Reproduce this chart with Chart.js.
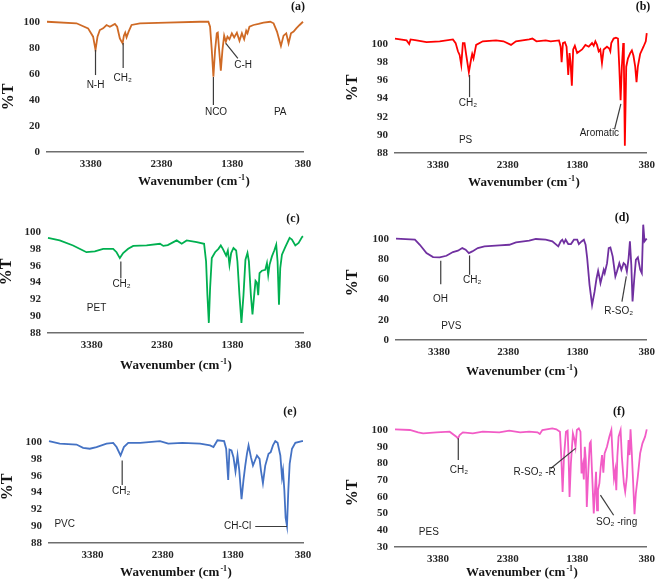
<!DOCTYPE html>
<html><head><meta charset="utf-8">
<script src="https://cdn.jsdelivr.net/npm/chart.js@4/dist/chart.umd.min.js"></script>
<style>
html,body{margin:0;padding:0;background:#fff;}
#wrap{position:relative;width:661px;height:584px;overflow:hidden;}
canvas{position:absolute;}
</style></head><body><div id="wrap">
<canvas id="ca" width="330" height="195" style="left:0;top:0"></canvas>
<canvas id="cb" width="331" height="195" style="left:330px;top:0"></canvas>
<canvas id="cc" width="330" height="195" style="left:0;top:195px"></canvas>
<canvas id="cd" width="331" height="195" style="left:330px;top:195px"></canvas>
<canvas id="ce" width="330" height="194" style="left:0;top:390px"></canvas>
<canvas id="cf" width="331" height="194" style="left:330px;top:390px"></canvas>
</div>
<script>
// ---- shared tick labels ----
const xTickValues = [3380, 2380, 1380, 380];
const yTicksPercent = [0, 20, 40, 60, 80, 100];
const yTicksNarrow = [88, 90, 92, 94, 96, 98, 100];
const yTicksPES = [30, 40, 50, 60, 70, 80, 90, 100];

// ---- (a) PA ----
const paWavenumber = [4000,3583,3419,3348,3314,3286,3253,3206,3158,3111,
  3040,3008,2970,2946,2931,2913,2894,2875,2846,2804,
  2686,2308,1836,1718,1694,1670,1647,1623,1599,1585,
  1566,1542,1519,1495,1471,1448,1420,1386,1353,1315,
  1278,1244,1212,1183,1165,1137,1080,1009,938,843,
  796,748,692,655,617,584,550,513,475,428,
  380];
const paTransmittance = [100.2,99.0,95.1,88.7,78.5,88.7,93.8,95.1,97.7,96.4,
  98.5,96.4,87.4,84.9,83.6,89.5,91.8,88.2,92.6,97.7,
  99.0,99.5,100.2,100.2,96.4,78.5,57.9,78.5,91.3,91.8,
  78.5,62.6,78.5,89.5,84.9,88.7,86.7,91.3,88.2,91.8,
  85.6,91.3,86.7,93.3,91.3,96.4,97.7,98.5,99.5,100.2,
  99.0,92.6,81.5,89.5,91.3,83.6,91.3,92.6,95.1,97.7,
  100.2];
const paNotes = [['N-H',3314,51.5],['CH₂',2931,56.9],['NCO',1610,30.8],['C-H',1226,66.9],['PA',702,30.8]];
const paLeaders = [[3314,78.5,3314,59.2],[2923,83.8,2923,64.6],[1647,57.7,1647,36.2],[1471,83.6,1301,72.1]];

// ---- (b) PS ----
const psWavenumber = [4000,3833,3796,3776,3690,3547,3357,3167,3128,3095,
  3071,3047,3024,3000,2976,2938,2904,2890,2871,2833,
  2738,2547,2440,2332,2261,2071,2024,1966,1833,1761,
  1642,1618,1604,1585,1557,1533,1509,1490,1476,1457,
  1438,1414,1381,1310,1262,1214,1167,1143,1119,1095,
  1071,1048,1024,1000,952,919,904,890,856,823,
  794,775,756,738,718,709,695,675,651,618,
  594,571,546,527,508,475,427,394,380];
const psTransmittance = [100.6,100.4,100.0,100.5,100.4,100.2,100.3,100.5,100.1,99.2,
  98.8,97.7,100.1,100.1,98.8,96.9,98.4,98.9,98.4,99.9,
  100.3,100.4,100.3,99.9,100.3,100.5,100.6,100.3,100.4,100.3,
  100.4,99.7,98.0,100.1,100.2,99.7,96.6,99.0,98.0,95.4,
  99.4,99.8,99.0,99.4,99.9,99.7,100.1,99.8,100.3,99.9,
  99.2,99.4,97.9,99.4,99.7,99.5,99.2,100.1,100.6,100.7,
  100.6,97.5,93.8,97.5,100.1,98.2,88.8,97.5,98.4,99.0,
  99.3,98.7,97.5,95.8,97.5,98.9,99.7,100.3,101.2];
const psNotes = [['CH₂',2952,93.5],['Aromatic',1061,90.15],['PS',2985,89.4]];
const psLeaders = [[2928,96.6,2928,94.15],[752,93.4,843,90.6]];

// ---- (c) PET ----
const petWavenumber = [4000,3834,3644,3502,3454,3335,3217,3075,3027,2980,
  2933,2862,2790,2600,2410,2363,2300,2173,2102,2031,
  1888,1784,1756,1737,1717,1699,1675,1628,1581,1547,
  1518,1471,1447,1424,1400,1367,1329,1311,1282,1254,
  1225,1197,1168,1148,1120,1097,1073,1054,1034,1016,
  997,963,916,892,874,855,821,788,760,741,
  721,703,679,632,570,537,489,442,394,380];
const petTransmittance = [99.3,99.0,98.4,97.8,97.6,97.7,98.0,98.0,97.6,96.9,
  97.5,98.0,98.35,98.4,98.6,98.35,98.45,99.0,98.6,99.0,
  98.8,98.6,96.5,92.5,89.2,93.3,96.9,97.6,98.0,98.4,
  98.0,97.2,97.8,96.1,97.5,98.1,97.8,96.5,92.5,89.2,
  92.5,96.7,97.5,96.5,92.5,90.2,92.5,94.2,94.0,92.5,
  95.1,95.4,95.5,96.3,94.9,96.1,97.1,97.8,98.5,96.5,
  91.35,95.7,97.3,98.2,99.3,99.1,98.4,98.7,99.4,99.5];
const petNotes = [['CH₂',2956,93.8],['PET',3311,91.0]];
const petLeaders = [[2966,96.5,2966,94.5]];

// ---- (d) PVS ----
const pvsWavenumber = [4000,3727,3656,3560,3465,3369,3272,3178,3106,3043,
  2995,2948,2899,2819,2723,2508,2364,2268,2077,1981,
  1838,1743,1657,1622,1599,1575,1551,1513,1474,1431,
  1384,1360,1321,1288,1263,1240,1206,1169,1134,1105,
  1082,1062,1048,1025,1001,987,953,929,905,872,
  833,810,776,747,714,690,667,642,623,603,
  585,560,537,508,474,451,431,412,394,380];
const pvsTransmittance = [100.3,99.3,94.3,86.1,82.1,81.8,83.4,87.1,88.4,91.0,
  89.4,86.1,87.7,91.0,92.7,93.6,94.3,96.6,98.3,100.0,
  99.3,97.7,92.7,97.7,99.3,96.0,99.3,95.0,95.0,99.3,
  99.3,95.0,97.6,99.3,94.3,81.1,54.6,34.8,47.6,60.9,
  68.5,61.9,56.3,62.9,69.5,66.2,76.1,91.0,91.7,82.8,
  62.9,67.8,76.1,69.5,76.1,74.5,67.8,81.1,97.7,74.5,
  38.1,60.9,79.4,81.8,69.5,66.2,114.2,97.7,99.3,100.3];
const pvsNotes = [['OH',3359,40.4],['CH₂',2900,59.6],['R-SO₂',786,28.8],['PVS',3201,13.9]];
const pvsLeaders = [[3354,78.5,3354,55.3],[2938,83.7,2938,64.5],[675,62.9,738,38.0]];

// ---- (e) PVC ----
const pvcWavenumber = [4000,3847,3608,3514,3418,3323,3180,3085,3037,2980,
  2933,2871,2700,2418,2300,2100,1847,1704,1656,1599,
  1504,1475,1446,1428,1399,1371,1342,1313,1289,1256,
  1228,1203,1179,1156,1122,1093,1036,999,979,951,
  918,871,840,808,775,742,703,679,665,646,
  628,608,589,570,537,489,394,380];
const pvcTransmittance = [100.1,99.8,99.7,99.3,99.2,99.4,99.8,99.9,99.4,98.4,
  99.4,99.9,99.9,100.1,99.8,99.9,99.8,99.6,99.4,100.2,
  100.1,99.2,95.5,99.1,99.0,98.2,96.5,98.4,96.7,93.2,
  95.5,97.2,98.6,99.6,98.2,97.2,98.4,98.0,96.6,95.1,
  97.2,98.6,98.8,99.6,100.1,99.9,98.4,95.8,96.6,94.3,
  91.0,90.0,94.3,97.4,99.2,99.9,100.1,100.1];
const pvcNotes = [['CH₂',2970,94.1],['PVC',3776,90.25],['CH-Cl',1311,90.0]];
const pvcLeaders = [[2957,97.8,2957,94.9],[1061,89.96,608,89.96]];

// ---- (f) PES ----
const pesWavenumber = [4000,3786,3667,3596,3404,3214,3118,3095,3071,3024,
  2881,2738,2500,2357,2200,2071,1950,1918,1881,1738,
  1680,1628,1609,1590,1570,1542,1518,1504,1490,1471,
  1442,1423,1404,1385,1357,1333,1318,1299,1285,1271,
  1256,1242,1223,1199,1185,1166,1142,1124,1109,1095,
  1081,1061,1042,1023,1004,986,952,918,889,870,
  851,832,818,803,785,756,738,709,690,666,
  642,628,613,595,575,556,537,509,475,442,
  404,380];
const pesTransmittance = [100.4,100.0,98.6,98.0,98.6,99.0,96.0,95.0,97.0,98.6,
  98.0,99.0,98.6,99.6,98.6,99.0,98.6,97.6,100.0,101.0,
  100.4,99.0,84.0,63.0,84.0,99.0,99.6,84.0,60.0,80.0,
  98.0,95.0,90.0,100.0,101.0,99.0,74.0,79.0,70.4,90.0,
  82.0,54.0,73.0,92.0,93.0,74.0,50.0,64.0,75.0,52.0,
  64.0,68.0,78.0,85.0,74.4,86.0,90.0,96.0,100.0,84.0,
  71.0,76.0,64.0,84.0,96.0,100.0,84.0,68.0,63.0,72.0,
  94.0,85.0,100.4,86.0,68.0,49.6,62.0,72.0,86.0,92.0,
  96.0,100.4];
const pesNotes = [['CH₂',3081,76],['R-SO₂ -R',1992,75],['SO₂ -ring',813,44.6],['PES',3514,38.6]];
const pesLeaders = [[3090,95,3090,82],[1404,89,1761,77],[1046,61,856,49]];

// ---------------- drawing ----------------
const SERIF = '"Liberation Serif", "Times New Roman", serif';
const SANS = '"Liberation Sans", Arial, sans-serif';

function drawXTitle(ctx, cx, cy) {
  const f1 = 'bold 13px ' + SERIF, f2 = 'bold 8px ' + SERIF;
  const a = 'Wavenumber (cm', b = '-1', c = ')';
  ctx.font = f1; const wa = ctx.measureText(a).width, wc = ctx.measureText(c).width;
  ctx.font = f2; const wb = ctx.measureText(b).width;
  const x0 = cx - (wa + wb + wc + 1.5) / 2;
  ctx.textAlign = 'left'; ctx.textBaseline = 'middle';
  ctx.font = f1; ctx.fillText(a, x0, cy);
  ctx.font = f2; ctx.fillText(b, x0 + wa + 1, cy - 4);
  ctx.font = f1; ctx.fillText(c, x0 + wa + wb + 1.5, cy);
}

function annotPlugin(p) {
  return {
    id: 'annot_' + p.id,
    afterDatasetsDraw(chart) {
      const ctx = chart.ctx, x = chart.scales.x, y = chart.scales.y;
      ctx.save();
      ctx.strokeStyle = '#3c3c3c'; ctx.lineWidth = 1.2;
      p.leaders.forEach(l => {
        ctx.beginPath();
        ctx.moveTo(x.getPixelForValue(l[0]), y.getPixelForValue(l[1]));
        ctx.lineTo(x.getPixelForValue(l[2]), y.getPixelForValue(l[3]));
        ctx.stroke();
      });
      ctx.fillStyle = '#1e1e1e'; ctx.font = '10px ' + SANS;
      ctx.textAlign = 'center'; ctx.textBaseline = 'middle';
      p.notes.forEach(n => ctx.fillText(n[0], x.getPixelForValue(n[1]), y.getPixelForValue(n[2])));
      ctx.fillStyle = '#141414';
      ctx.font = 'bold 12px ' + SERIF;
      ctx.fillText(p.letter, p.letterPos[0], p.letterPos[1]);
      ctx.save();
      ctx.translate(p.yTitlePos[0], p.yTitlePos[1]); ctx.rotate(-Math.PI / 2);
      ctx.font = 'bold 16px ' + SERIF; ctx.textAlign = 'center'; ctx.textBaseline = 'middle';
      ctx.fillText('%T', 0, 0);
      ctx.restore();
      drawXTitle(ctx, p.xTitlePos[0], p.xTitlePos[1]);
      ctx.restore();
    }
  };
}

function makeChart(p) {
  const cv = document.getElementById(p.id);
  const W = cv.width, H = cv.height;
  const tickFont = { family: SERIF, size: 11, weight: 'bold' };
  return new Chart(cv, {
    type: 'line',
    data: { datasets: [{
      data: p.wn.map((w, i) => ({ x: w, y: p.t[i] })),
      borderColor: p.color, borderWidth: 1.8, pointRadius: 0, tension: 0, fill: false, clip: false
    }] },
    options: {
      responsive: false, animation: false, events: [],
      layout: { padding: { left: 0, right: W - p.area.right, top: p.area.top, bottom: 0 } },
      plugins: { legend: { display: false }, tooltip: { enabled: false } },
      scales: {
        x: {
          type: 'linear', reverse: true, min: 380, max: 4000,
          afterBuildTicks: s => { s.ticks = xTickValues.map(v => ({ value: v })); },
          afterFit: s => { s.height = H - p.area.bottom; },
          grid: { display: false, drawTicks: false },
          border: { display: true, color: '#6e6e6e', width: 1.5 },
          ticks: { autoSkip: false, maxRotation: 0, padding: 6, color: '#262626', font: tickFont,
                   callback: v => String(v) }
        },
        y: {
          type: 'linear', min: p.yMin, max: p.yMax,
          afterBuildTicks: s => { s.ticks = p.yTicks.map(v => ({ value: v })); },
          afterFit: s => { s.width = p.area.left; },
          grid: { display: false, drawTicks: false },
          border: { display: false },
          ticks: { autoSkip: false, padding: 7, color: '#262626', font: tickFont,
                   callback: v => String(v) }
        }
      }
    },
    plugins: [annotPlugin(p)]
  });
}

makeChart({ id: 'ca', wn: paWavenumber, t: paTransmittance, color: '#cf6a25', yMin: 0, yMax: 100, yTicks: yTicksPercent,
  area: { left: 47, right: 303, top: 22, bottom: 152 }, notes: paNotes, leaders: paLeaders,
  letter: '(a)', letterPos: [298, 7], yTitlePos: [9, 97], xTitlePos: [194, 182] });
makeChart({ id: 'cb', wn: psWavenumber, t: psTransmittance, color: '#ff0000', yMin: 88, yMax: 100, yTicks: yTicksNarrow,
  area: { left: 65, right: 318, top: 44, bottom: 153 }, notes: psNotes, leaders: psLeaders,
  letter: '(b)', letterPos: [313, 7], yTitlePos: [23, 88], xTitlePos: [194, 183] });
makeChart({ id: 'cc', wn: petWavenumber, t: petTransmittance, color: '#00b050', yMin: 88, yMax: 100, yTicks: yTicksNarrow,
  area: { left: 48, right: 303, top: 37, bottom: 138 }, notes: petNotes, leaders: petLeaders,
  letter: '(c)', letterPos: [293, 24], yTitlePos: [7, 77], xTitlePos: [176, 171] });
makeChart({ id: 'cd', wn: pvsWavenumber, t: pvsTransmittance, color: '#7030a0', yMin: 0, yMax: 100, yTicks: yTicksPercent,
  area: { left: 66, right: 318, top: 44, bottom: 145 }, notes: pvsNotes, leaders: pvsLeaders,
  letter: '(d)', letterPos: [292, 23], yTitlePos: [23, 88], xTitlePos: [192, 177] });
makeChart({ id: 'ce', wn: pvcWavenumber, t: pvcTransmittance, color: '#4472c4', yMin: 88, yMax: 100, yTicks: yTicksNarrow,
  area: { left: 49, right: 303, top: 52, bottom: 153 }, notes: pvcNotes, leaders: pvcLeaders,
  letter: '(e)', letterPos: [290, 22], yTitlePos: [8, 97], xTitlePos: [176, 183] });
makeChart({ id: 'cf', wn: pesWavenumber, t: pesTransmittance, color: '#f25cc6', yMin: 30, yMax: 100, yTicks: yTicksPES,
  area: { left: 65, right: 318, top: 40, bottom: 157 }, notes: pesNotes, leaders: pesLeaders,
  letter: '(f)', letterPos: [289, 22], yTitlePos: [23, 103], xTitlePos: [192, 183] });
</script></body></html>
